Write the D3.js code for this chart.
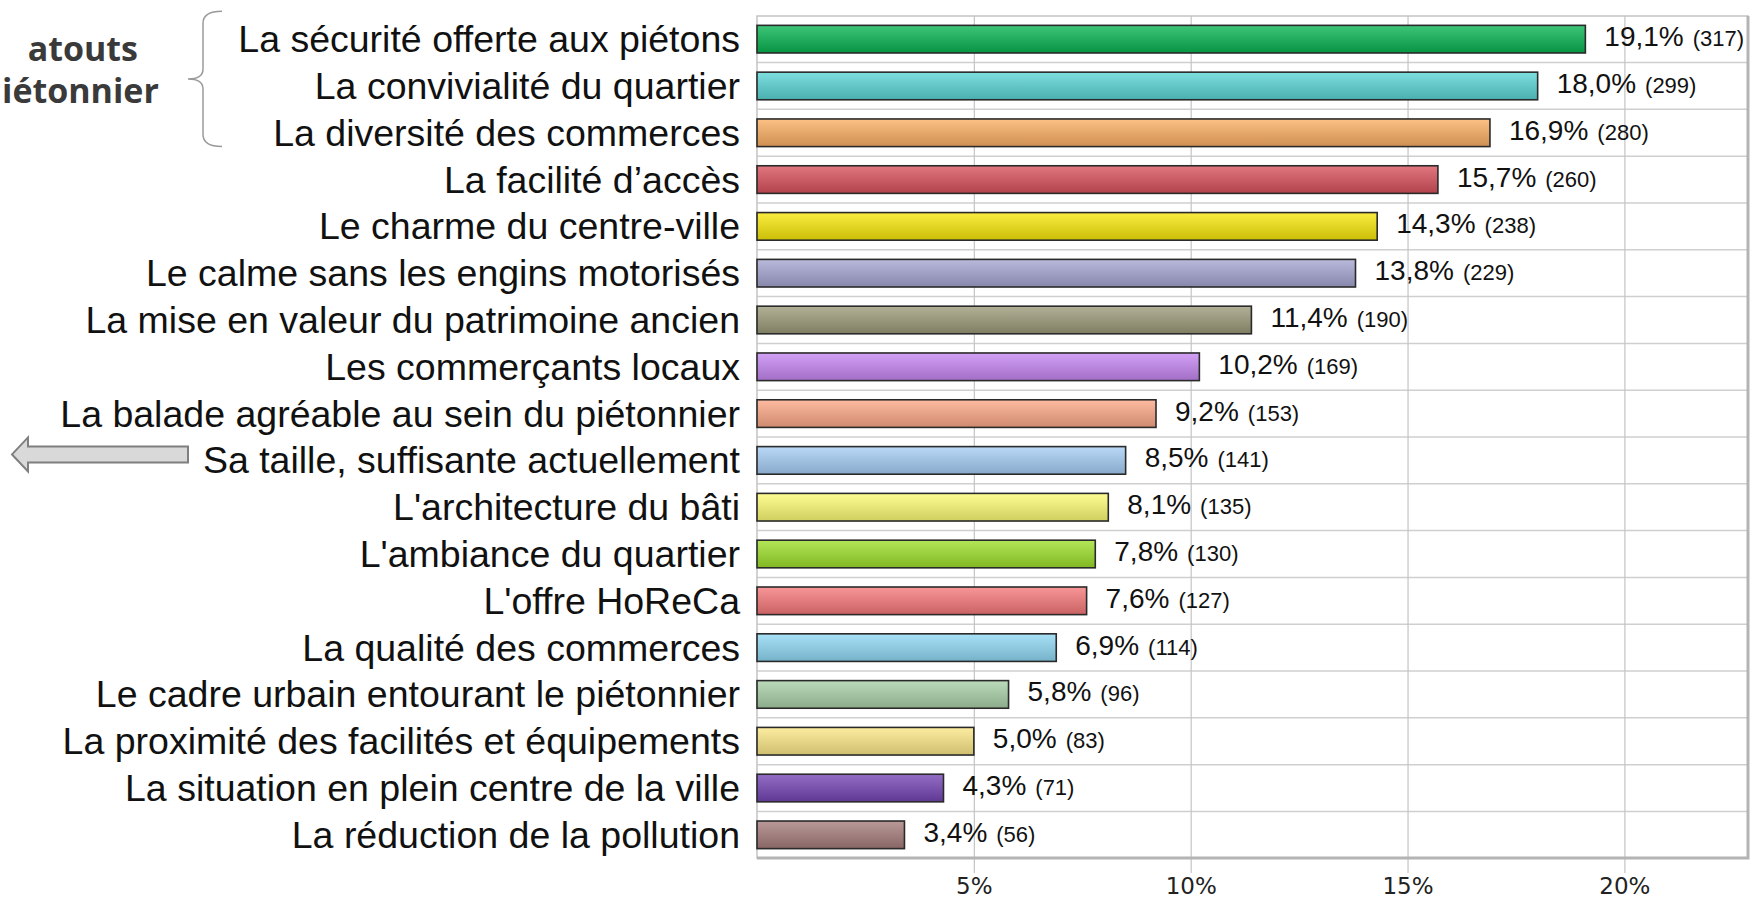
<!DOCTYPE html>
<html>
<head>
<meta charset="utf-8">
<script src="https://cdn.jsdelivr.net/npm/d3@7"></script>
<style>
  html, body { margin: 0; padding: 0; background: #fff; }
  svg { display: block; }
</style>
</head>
<body>
<div id="chart"></div>
<script>
// categories, top to bottom
const categories = [
    "La sécurité offerte aux piétons",
    "La convivialité du quartier",
    "La diversité des commerces",
    "La facilité d’accès",
    "Le charme du centre-ville",
    "Le calme sans les engins motorisés",
    "La mise en valeur du patrimoine ancien",
    "Les commerçants locaux",
    "La balade agréable au sein du piétonnier",
    "Sa taille, suffisante actuellement",
    "L'architecture du bâti",
    "L'ambiance du quartier",
    "L'offre HoReCa",
    "La qualité des commerces",
    "Le cadre urbain entourant le piétonnier",
    "La proximité des facilités et équipements",
    "La situation en plein centre de la ville",
    "La réduction de la pollution"
];
const percents = [19.1, 18.0, 16.9, 15.7, 14.3, 13.8, 11.4, 10.2, 9.2, 8.5, 8.1, 7.8, 7.6, 6.9, 5.8, 5.0, 4.3, 3.4];
const counts = [317, 299, 280, 260, 238, 229, 190, 169, 153, 141, 135, 130, 127, 114, 96, 83, 71, 56];
const barColors = [
    "#07b552", "#5ad6d6", "#fdaf63", "#d9505c", "#f8e80a", "#a5a5d2",
    "#9c9a78", "#c586f2", "#fca886", "#a6cef6", "#fdfd74", "#9ddf2a",
    "#f6787a", "#8fd9f5", "#a9d1a8", "#fde886", "#7444b4", "#a67c7c"
];
const xTicks = [5, 10, 15, 20];
// side title as visible in the reference (clipped by the left edge there)
const sideTitle = ["atouts", "iétonnier"];
const arrowRow = "Sa taille, suffisante actuellement";

const width = 1757;
const height = 901;
const plot = { left: 757, right: 1748, top: 16, bottom: 858 };

const svg = d3.select("#chart").append("svg")
    .attr("width", width)
    .attr("height", height);

const defs = svg.append("defs");

const x = d3.scaleLinear()
    .domain([0, 22.85])
    .range([plot.left, plot.right]);

const y = d3.scaleBand()
    .domain(categories)
    .range([plot.top, plot.bottom])
    .paddingInner(0.41)
    .paddingOuter(0.2);

const gap = y.step() - y.bandwidth();

// gradient per bar (light on top, deeper at bottom)
barColors.forEach((c, i) => {
    const g = defs.append("linearGradient")
        .attr("id", "grad" + i)
        .attr("x1", 0).attr("y1", 0).attr("x2", 0).attr("y2", 1);
    g.append("stop").attr("offset", "0%").attr("stop-color", d3.interpolateRgb(c, "#fff")(0.22));
    g.append("stop").attr("offset", "100%").attr("stop-color", d3.interpolateRgb(c, "#000")(0.18));
});

// horizontal grid between rows
svg.append("g")
    .selectAll("line")
    .data(categories.slice(1))
    .enter()
    .append("line")
    .attr("x1", plot.left)
    .attr("x2", plot.right)
    .attr("y1", d => y(d) - gap / 2)
    .attr("y2", d => y(d) - gap / 2)
    .attr("stroke", "#cfcfcf")
    .attr("stroke-width", 1.5);

// x axis with vertical grid lines
const axis = svg.append("g")
    .attr("transform", `translate(0, ${plot.bottom + 15})`)
    .call(d3.axisBottom(x)
        .tickValues(xTicks)
        .tickFormat(d => d + "%")
        .tickSizeInner(-(plot.bottom + 15 - plot.top))
        .tickSizeOuter(0)
        .tickPadding(5));
axis.select(".domain").remove();
axis.selectAll("line").attr("stroke", "#c4c4c4").attr("stroke-width", 1.2);
axis.selectAll("text")
    .style("font-family", "'DejaVu Sans', sans-serif")
    .style("font-size", "23px")
    .attr("fill", "#222");

// plot frame
svg.append("rect")
    .attr("x", plot.left)
    .attr("y", plot.top)
    .attr("width", plot.right - plot.left)
    .attr("height", plot.bottom - plot.top)
    .attr("fill", "none")
    .attr("stroke", "#c4c4c4")
    .attr("stroke-width", 1.5);
svg.append("path")
    .attr("d", `M${plot.right},${plot.top} V${plot.bottom} H${plot.left}`)
    .attr("fill", "none")
    .attr("stroke", "#b4b4b4")
    .attr("stroke-width", 3);

// bars
svg.selectAll(".bar")
    .data(categories)
    .enter()
    .append("rect")
    .attr("class", "bar")
    .attr("x", x(0))
    .attr("y", d => y(d))
    .attr("width", (d, i) => x(percents[i]) - x(0))
    .attr("height", y.bandwidth())
    .attr("fill", (d, i) => `url(#grad${i})`)
    .attr("stroke", "#2a2a2a")
    .attr("stroke-width", 1.6);

// category labels
svg.selectAll(".cat")
    .data(categories)
    .enter()
    .append("text")
    .attr("class", "cat")
    .attr("x", plot.left - 17)
    .attr("y", d => y(d) + y.bandwidth() / 2 + 13)
    .attr("text-anchor", "end")
    .style("font-family", "'Liberation Sans', Arial, sans-serif")
    .style("font-size", "37.5px")
    .attr("fill", "#111")
    .text(d => d);

// value labels
const vl = svg.selectAll(".val")
    .data(categories)
    .enter()
    .append("text")
    .attr("class", "val")
    .attr("x", (d, i) => x(percents[i]) + 19)
    .attr("y", d => y(d) + y.bandwidth() / 2 + 7)
    .style("font-family", "'Liberation Sans', Arial, sans-serif")
    .attr("fill", "#111");
vl.append("tspan")
    .style("font-size", "28px")
    .text((d, i) => percents[i].toFixed(1).replace(".", ",") + "%");
vl.append("tspan")
    .style("font-size", "22px")
    .attr("dx", 9)
    .text((d, i) => "(" + counts[i] + ")");

// brace grouping the first three rows
const bTop = y(categories[0]) - 14;
const bBot = y(categories[2]) + y.bandwidth();
const bMid = (bTop + bBot) / 2;
svg.append("path")
    .attr("d", `M222,${bTop} Q203,${bTop} 203,${bTop + 12} V${bMid - 10} Q203,${bMid} 188,${bMid}
                Q203,${bMid} 203,${bMid + 10} V${bBot - 12} Q203,${bBot} 222,${bBot}`)
    .attr("fill", "none")
    .attr("stroke", "#9a9a9a")
    .attr("stroke-width", 1.5);

// side title
svg.append("g")
    .selectAll("text")
    .data(sideTitle)
    .enter()
    .append("text")
    .attr("x", (d, i) => i === 0 ? 138 : 2)
    .attr("y", (d, i) => bMid - 18 + i * 42)
    .attr("text-anchor", (d, i) => i === 0 ? "end" : "start")
    .style("font-family", "'Open Sans', sans-serif")
    .style("font-weight", "bold")
    .style("font-size", "34px")
    .attr("fill", "#3a3a3a")
    .text(d => d);

// arrow pointing left at "Sa taille"
const ay = y(arrowRow) + y.bandwidth() / 2 - 6;
svg.append("path")
    .attr("d", `M188,${ay - 8} H28 V${ay - 17} L12,${ay} L28,${ay + 17} V${ay + 8} H188 Z`)
    .attr("fill", "#d9d9d9")
    .attr("stroke", "#7f7f7f")
    .attr("stroke-width", 2);
</script>
</body>
</html>
